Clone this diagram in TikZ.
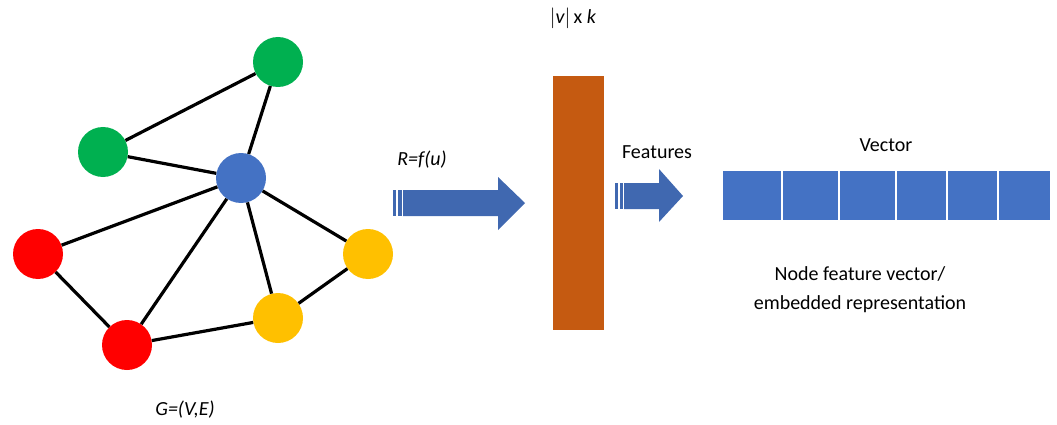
\documentclass[tikz,border=0pt]{standalone}
\usepackage{fontspec}
\setmainfont{Carlito}
\definecolor{gblue}{HTML}{4472C4}
\definecolor{ablue}{HTML}{4068B0}
\definecolor{ggreen}{HTML}{00B050}
\definecolor{gred}{HTML}{FF0000}
\definecolor{gyellow}{HTML}{FFC000}
\definecolor{gorange}{HTML}{C55A11}
\begin{document}
\begin{tikzpicture}[x=1pt,y=-1pt,
  vertex/.style={circle,minimum size=50pt,inner sep=0pt,fill=#1},
  edge/.style={line width=3.2pt,black},
  cell/.style={fill=gblue,draw=white,line width=1.2pt},
  lbl/.style={font=\fontsize{20}{29}\selectfont,text=black}]
\useasboundingbox (0,0) rectangle (1057,425);

% graph
\node[vertex=ggreen] (g1) at (278,62) {};
\node[vertex=ggreen] (g2) at (103,152) {};
\node[vertex=gblue] (b) at (241,178) {};
\node[vertex=gred] (r1) at (38,254) {};
\node[vertex=gred] (r2) at (127,345) {};
\node[vertex=gyellow] (y1) at (278,318) {};
\node[vertex=gyellow] (y2) at (368,254) {};
\draw[edge] (g1) -- (g2);
\draw[edge] (g1) -- (b);
\draw[edge] (g2) -- (b);
\draw[edge] (b) -- (r1);
\draw[edge] (b) -- (r2);
\draw[edge] (b) -- (y1);
\draw[edge] (b) -- (y2);
\draw[edge] (r1) -- (r2);
\draw[edge] (r2) -- (y1);
\draw[edge] (y1) -- (y2);
\node[lbl] (gl) at (185,410) {\itshape G=(V,E)};

% first striped arrow
\fill[ablue] (403,190) -- (498,190) -- (498,177) -- (525,203) -- (498,230) -- (498,216) -- (403,216) -- cycle;
\fill[ablue] (393,190) rectangle (396,216);
\fill[ablue] (397.5,190) rectangle (401.5,216);
\node[lbl] (rl) at (422,160) {\itshape R=f(u)};

% feature matrix
\node[fill=gorange,minimum width=51pt,minimum height=254pt,inner sep=0pt] (m) at (578.5,203) {};
\node[lbl] (ml) at (573,18) {$|\mathit{v}|$\,x \textit{k}};

% second striped arrow
\fill[ablue] (624,183) -- (659,183) -- (659,169) -- (683,196) -- (659,222) -- (659,209) -- (624,209) -- cycle;
\fill[ablue] (615,183) rectangle (618,209);
\fill[ablue] (619.5,183) rectangle (623,209);
\node[lbl] (fl) at (657,152) {Features};

% vector cells
\draw[cell] (722,170) rectangle (782,221);
\draw[cell] (782,170) rectangle (839,221);
\draw[cell] (839,170) rectangle (896,221);
\draw[cell] (896,170) rectangle (947,221);
\draw[cell] (947,170) rectangle (998,221);
\draw[cell] (998,170) rectangle (1051,221);
\node[lbl] (vl) at (886,145) {Vector};
\node[lbl,align=center] (nl) at (860,290) {Node feature vector/\\embedded representation};
\end{tikzpicture}
\end{document}
